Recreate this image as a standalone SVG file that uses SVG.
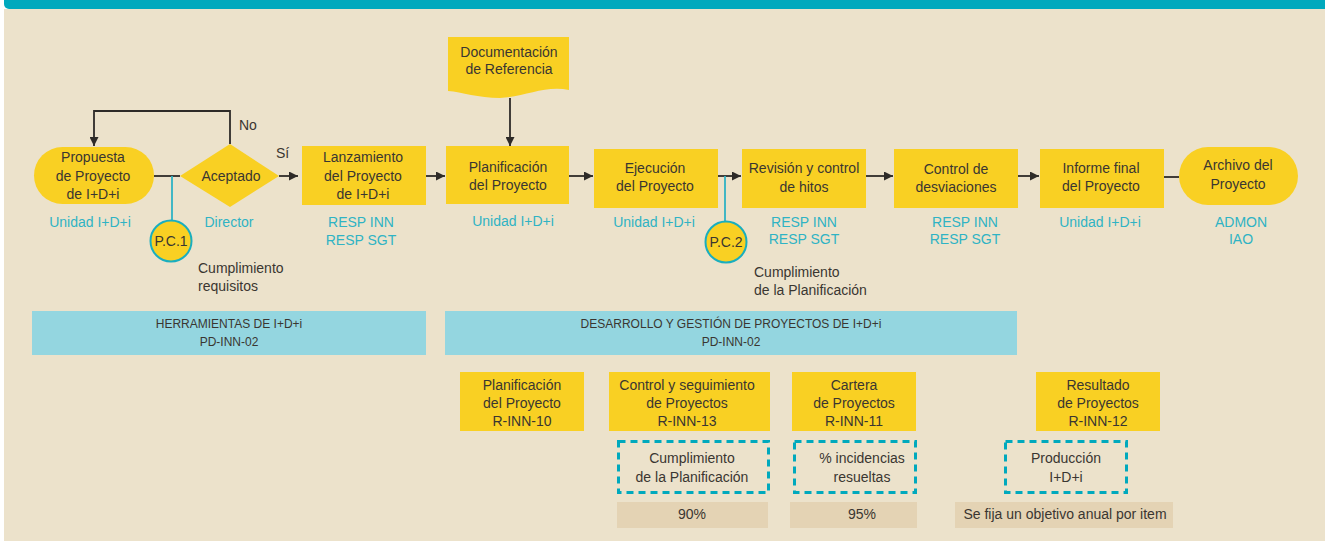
<svg xmlns="http://www.w3.org/2000/svg" width="1325" height="544" viewBox="0 0 1325 544">
<defs>
<style>
.t{font-family:"Liberation Sans",Arial,sans-serif;font-size:14px;fill:#3a3631;text-anchor:middle}
.tl{text-anchor:start}
.lab{fill:#2fb3c4}
.band{font-size:12px}
.y{fill:#f9d023}
.lb{fill:#94d6e0}
.tan{fill:#e4d3b4}
.dash{fill:none;stroke:#00a9bd;stroke-width:3;stroke-dasharray:7 5}
.c{fill:none;stroke:#2e2b28;stroke-width:1.8}
.tc{fill:none;stroke:#2fb3c4;stroke-width:1.8}
.pc{fill:#f9d023;stroke:#19aebf;stroke-width:2}
</style>
<marker id="ah" markerUnits="userSpaceOnUse" viewBox="0 0 10 10" markerWidth="9" markerHeight="9" refX="10" refY="5" orient="auto">
<path d="M0,0 L10,5 L0,10 z" fill="#2e2b28"/>
</marker>
</defs>
<rect x="0" y="0" width="1325" height="544" fill="#ffffff"/>
<rect x="4" y="-10" width="1330" height="19" rx="5" fill="#00a9bd"/>
<rect x="4" y="9" width="1330" height="532" fill="#ece2cb"/>

<g id="connectors">
<path class="c" d="M230,144 V111 H94 V146" marker-end="url(#ah)"/>
<path class="c" d="M154,176 H180"/>
<path class="c" d="M279,176 H298" marker-end="url(#ah)"/>
<path class="c" d="M426,176 H445" marker-end="url(#ah)"/>
<path class="c" d="M510,98 V146" marker-end="url(#ah)"/>
<path class="c" d="M569,176 H593" marker-end="url(#ah)"/>
<path class="c" d="M718,176 H741" marker-end="url(#ah)"/>
<path class="c" d="M866,176 H893" marker-end="url(#ah)"/>
<path class="c" d="M1018,176 H1039" marker-end="url(#ah)"/>
<path class="c" d="M1164,177 H1179"/>
<path class="tc" d="M172,176 V220"/>
<path class="tc" d="M725,176 V221"/>
<text class="t tl" x="239" y="130">No</text>
<text class="t tl" x="276" y="158">Sí</text>
</g>

<g id="n-propuesta">
<rect class="y" x="34" y="147" width="120" height="57" rx="28.5"/>
<text class="t" x="93" y="162">Propuesta</text>
<text class="t" x="93" y="181">de Proyecto</text>
<text class="t" x="93" y="199">de I+D+i</text>
<text class="t lab" x="90" y="227">Unidad I+D+i</text>
</g>

<g id="n-aceptado">
<polygon class="y" points="180,176 230,144 279,176 230,207"/>
<text class="t" x="231" y="181">Aceptado</text>
<text class="t lab" x="229" y="227">Director</text>
</g>

<g id="n-pc1">
<circle class="pc" cx="171" cy="241" r="20.5"/>
<text class="t" x="171" y="246">P.C.1</text>
<text class="t tl" x="198" y="273">Cumplimiento</text>
<text class="t tl" x="198" y="291">requisitos</text>
</g>

<g id="n-lanzamiento">
<rect class="y" x="302" y="146" width="124" height="59"/>
<text class="t" x="363" y="162">Lanzamiento</text>
<text class="t" x="363" y="181">del Proyecto</text>
<text class="t" x="363" y="199">de I+D+i</text>
<text class="t lab" x="361" y="227">RESP INN</text>
<text class="t lab" x="361" y="245">RESP SGT</text>
</g>

<g id="n-documentacion">
<path class="y" d="M448,37 H569 V90 C545,85 525,97 500,98 C478,98 462,92 448,91 Z"/>
<text class="t" x="509" y="57">Documentación</text>
<text class="t" x="509" y="74">de Referencia</text>
</g>

<g id="n-planificacion">
<rect class="y" x="446" y="146" width="123" height="58"/>
<text class="t" x="508" y="172">Planificación</text>
<text class="t" x="508" y="190">del Proyecto</text>
<text class="t lab" x="513" y="226">Unidad I+D+i</text>
</g>

<g id="n-ejecucion">
<rect class="y" x="594" y="149" width="124" height="59"/>
<text class="t" x="655" y="173">Ejecución</text>
<text class="t" x="655" y="191">del Proyecto</text>
<text class="t lab" x="654" y="227">Unidad I+D+i</text>
</g>

<g id="n-pc2">
<circle class="pc" cx="726" cy="242" r="20.5"/>
<text class="t" x="726" y="247">P.C.2</text>
<text class="t tl" x="754" y="277">Cumplimiento</text>
<text class="t tl" x="754" y="295">de la Planificación</text>
</g>

<g id="n-revision">
<rect class="y" x="742" y="149" width="124" height="59"/>
<text class="t" x="804" y="173">Revisión y control</text>
<text class="t" x="804" y="192">de hitos</text>
<text class="t lab" x="804" y="227">RESP INN</text>
<text class="t lab" x="804" y="244">RESP SGT</text>
</g>

<g id="n-control">
<rect class="y" x="894" y="149" width="124" height="59"/>
<text class="t" x="956" y="174">Control de</text>
<text class="t" x="956" y="192">desviaciones</text>
<text class="t lab" x="965" y="227">RESP INN</text>
<text class="t lab" x="965" y="244">RESP SGT</text>
</g>

<g id="n-informe">
<rect class="y" x="1040" y="149" width="124" height="59"/>
<text class="t" x="1101" y="173">Informe final</text>
<text class="t" x="1101" y="191">del Proyecto</text>
<text class="t lab" x="1100" y="227">Unidad I+D+i</text>
</g>

<g id="n-archivo">
<rect class="y" x="1179" y="147" width="119" height="58" rx="29"/>
<text class="t" x="1238" y="170">Archivo del</text>
<text class="t" x="1238" y="189">Proyecto</text>
<text class="t lab" x="1241" y="227">ADMON</text>
<text class="t lab" x="1241" y="244">IAO</text>
</g>

<g id="b-herramientas">
<rect class="lb" x="32" y="311" width="394" height="44"/>
<text class="t band" x="229" y="328">HERRAMIENTAS DE I+D+i</text>
<text class="t band" x="229" y="346">PD-INN-02</text>
</g>

<g id="b-desarrollo">
<rect class="lb" x="445" y="311" width="572" height="44"/>
<text class="t band" x="731" y="328">DESARROLLO Y GESTIÓN DE PROYECTOS DE I+D+i</text>
<text class="t band" x="731" y="346">PD-INN-02</text>
</g>

<g id="r-inn-10">
<rect class="y" x="460" y="372" width="124" height="59"/>
<text class="t" x="522" y="390">Planificación</text>
<text class="t" x="522" y="408">del Proyecto</text>
<text class="t" x="522" y="426">R-INN-10</text>
</g>

<g id="r-inn-13">
<rect class="y" x="609" y="372" width="161" height="59"/>
<text class="t" x="687" y="390">Control y seguimiento</text>
<text class="t" x="687" y="408">de Proyectos</text>
<text class="t" x="687" y="426">R-INN-13</text>
</g>

<g id="i-cumplimiento">
<rect class="dash" x="618.5" y="441.5" width="150" height="51"/>
<text class="t" x="692" y="463">Cumplimiento</text>
<text class="t" x="692" y="482">de la Planificación</text>
</g>

<g id="v-90">
<rect class="tan" x="617" y="502" width="151" height="26"/>
<text class="t" x="692" y="519">90%</text>
</g>

<g id="r-inn-11">
<rect class="y" x="792" y="372" width="124" height="59"/>
<text class="t" x="854" y="390">Cartera</text>
<text class="t" x="854" y="408">de Proyectos</text>
<text class="t" x="854" y="426">R-INN-11</text>
</g>

<g id="i-incidencias">
<rect class="dash" x="794.5" y="441.5" width="121" height="51"/>
<text class="t" x="862" y="463">% incidencias</text>
<text class="t" x="862" y="482">resueltas</text>
</g>

<g id="v-95">
<rect class="tan" x="790" y="502" width="127" height="26"/>
<text class="t" x="862" y="519">95%</text>
</g>

<g id="r-inn-12">
<rect class="y" x="1036" y="372" width="124" height="59"/>
<text class="t" x="1098" y="390">Resultado</text>
<text class="t" x="1098" y="408">de Proyectos</text>
<text class="t" x="1098" y="426">R-INN-12</text>
</g>

<g id="i-produccion">
<rect class="dash" x="1005.5" y="441.5" width="121" height="51"/>
<text class="t" x="1066" y="463">Producción</text>
<text class="t" x="1066" y="482">I+D+i</text>
</g>

<g id="v-anual">
<rect class="tan" x="955" y="502" width="218" height="26"/>
<text class="t" x="1065" y="519">Se fija un objetivo anual por item</text>
</g>
</svg>
